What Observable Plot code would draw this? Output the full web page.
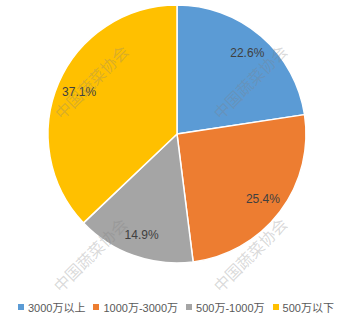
<!DOCTYPE html>
<html><head><meta charset="utf-8">
<script src="https://cdn.jsdelivr.net/npm/d3@7"></script>
<script src="https://cdn.jsdelivr.net/npm/@observablehq/plot@0.6"></script>
<style>
body{margin:0;background:#fff;width:350px;height:319px;overflow:hidden;font-family:"Liberation Sans","Noto Sans CJK SC",sans-serif}
#chart svg{display:block}
#legend{display:flex;align-items:center;height:14px;padding-left:18px;gap:8px;font-size:11px;color:#595959;white-space:nowrap}
#legend .item{display:flex;align-items:center;gap:4px}
#legend .sw{width:6px;height:6px;display:inline-block}
</style></head><body><div id="chart"></div><div id="legend"></div><script>
const categories = ["3000万以上", "1000万-3000万", "500万-1000万", "500万以下"];
const shares = [22.6, 25.4, 14.9, 37.1];
const colors = ["#5B9BD5", "#ED7D31", "#A5A5A5", "#FFC000"];
const watermark = "中国蔬菜协会";

const data = categories.map((c, i) => ({category: c, share: shares[i], color: colors[i]}));
const arcs = d3.pie().value(d => d.share).sort(null)(data);

const labelR = 0.83;
const labels = arcs.map(p => {
  const a = (p.startAngle + p.endAngle) / 2;
  return {text: p.data.share.toFixed(1) + "%", x: labelR * Math.sin(a), y: labelR * Math.cos(a)};
});

const wmSpots = [{x: -0.66, y: 0.40}, {x: 0.57, y: 0.40}, {x: -0.67, y: -0.94}, {x: 0.57, y: -0.94}];

const pieMark = (index, scales, values, dimensions, context) => {
  const cx = scales.x(0), cy = scales.y(0);
  const R = scales.x(1) - scales.x(0);
  const arcGen = d3.arc().innerRadius(0).outerRadius(R);
  const g = d3.create("svg:g").attr("transform", `translate(${cx},${cy})`);
  g.selectAll("path").data(arcs).join("path")
    .attr("d", arcGen)
    .attr("fill", d => d.data.color)
    .attr("stroke", "#fff")
    .attr("stroke-width", 1.5)
    .attr("stroke-linejoin", "round");
  return g.node();
};

const chart = Plot.plot({
  width: 350,
  height: 300,
  margin: 0,
  x: {domain: [-1, 1], range: [48, 306], axis: null},
  y: {domain: [-1, 1], range: [263, 5], axis: null},
  style: {fontFamily: '"Liberation Sans","Noto Sans CJK SC",sans-serif', background: "#fff"},
  marks: [
    pieMark,
    Plot.text(labels, {x: "x", y: "y", text: "text", fontSize: 12, fill: "#404040"}),
    Plot.text(wmSpots, {x: "x", y: "y", text: () => watermark, rotate: -45, fontSize: 16,
      fill: "#808080", fillOpacity: 0.3, fontFamily: "Noto Sans CJK SC"})
  ]
});
document.getElementById("chart").appendChild(chart);

const legend = d3.select("#legend");
const items = legend.selectAll(".item").data(data).join("div").attr("class", "item");
items.append("span").attr("class", "sw").style("background", d => d.color);
items.append("span").text(d => d.category);
</script></body></html>
